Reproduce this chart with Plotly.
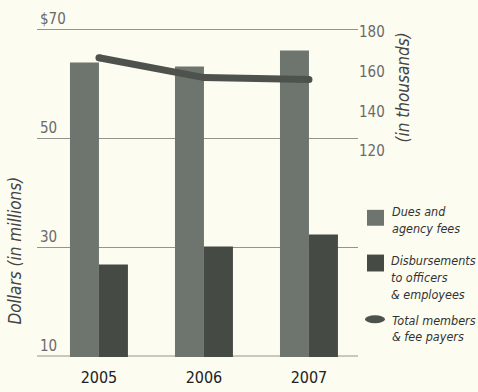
import plotly.graph_objects as go

# ---- data ----
years = ["2005", "2006", "2007"]
dues = [63.9, 63.2, 66.1]            # Dues and agency fees ($ millions)
disb = [26.8, 30.1, 32.3]            # Disbursements to officers & employees ($ millions)
members = [167, 157, 156]            # Total members & fee payers (thousands)

left_ticks = [10, 30, 50, 70]
left_text = ["10", "30", "50", "$70"]
right_ticks = [120, 140, 160, 180]
right_text = ["120", "140", "160", "180"]

series_names = [
    ["Dues and", "agency fees"],
    ["Disbursements", "to officers", "& employees"],
    ["Total members", "& fee payers"],
]
left_title = "Dollars (in millions)"
right_title = "(in thousands)"

# ---- style ----
W, H = 478, 392
L, R, T, B = 37, 120, 5, 33
pw, ph = W - L - R, H - T - B
BG = "#fcfcf1"
C_DUES = "#6e756e"
C_DISB = "#454a45"
C_LINE = "#4d524d"
GRID = "#94948e"
FONT = "DejaVu Sans Condensed, Liberation Sans Narrow, sans-serif"


def px(x):
    return (x - L) / pw


def py(y):
    return (H - B - y) / ph


fig = go.Figure()
fig.add_trace(go.Bar(x=years, y=dues, marker_color=C_DUES, marker_line_width=0,
                     name=" ".join(series_names[0])))
fig.add_trace(go.Bar(x=years, y=disb, marker_color=C_DISB, marker_line_width=0,
                     name=" ".join(series_names[1])))
fig.add_trace(go.Scatter(x=years, y=members, yaxis="y2", mode="lines+markers",
                         line=dict(color=C_LINE, width=7),
                         marker=dict(color=C_LINE, size=7),
                         name=" ".join(series_names[2])))

fig.update_layout(
    width=W, height=H,
    margin=dict(l=L, r=R, t=T, b=B, pad=0),
    paper_bgcolor=BG, plot_bgcolor=BG,
    barmode="group", bargap=0.448, bargroupgap=0,
    showlegend=False,
    font=dict(family=FONT, color="#555"),
    xaxis=dict(
        type="category", range=[-0.59, 2.467],
        showgrid=False, showline=False, zeroline=False, ticks="",
        tickfont=dict(family=FONT, size=16, color="#222"),
        ticklabelstandoff=9,
    ),
    yaxis=dict(
        range=[9.817, 74.475], tickvals=left_ticks, ticktext=left_text,
        showgrid=True, gridcolor=GRID, gridwidth=1,
        zeroline=False, showline=False, ticks="",
        ticklabelposition="inside top",
        tickfont=dict(family=FONT, size=15, color="#6a6a6a"),
    ),
    yaxis2=dict(
        overlaying="y", side="right", range=[16.5, 193.5],
        tickvals=right_ticks, ticktext=right_text,
        showgrid=False, zeroline=False, showline=False, ticks="",
        tickfont=dict(family=FONT, size=15, color="#6a6a6a"),
    ),
)

annotations = []
shapes = []

# baseline gridline at the lowest tick (edge gridlines are culled by plotly)
shapes.append(dict(type="line", xref="paper", yref="y", x0=0, x1=1,
                   y0=left_ticks[0], y1=left_ticks[0],
                   line=dict(color=GRID, width=1), layer="below"))

# axis titles
annotations.append(dict(xref="paper", yref="paper", x=px(15), y=py(252), text=left_title,
                        textangle=-90, showarrow=False, xanchor="center", yanchor="middle",
                        font=dict(family=FONT, size=17, color="#444", style="italic")))
annotations.append(dict(xref="paper", yref="paper", x=px(403), y=py(88), text=right_title,
                        textangle=-90, showarrow=False, xanchor="center", yanchor="middle",
                        font=dict(family=FONT, size=17, color="#444", style="italic")))

# legend
leg_rows = [[213, 230], [262, 279, 296], [322, 338]]
leg_x = [390, 389, 390]
shapes.append(dict(type="rect", xref="paper", yref="paper", x0=px(367), x1=px(384),
                   y0=py(227), y1=py(211), fillcolor=C_DUES, line_width=0))
shapes.append(dict(type="rect", xref="paper", yref="paper", x0=px(367), x1=px(384),
                   y0=py(273), y1=py(256), fillcolor=C_DISB, line_width=0))
shapes.append(dict(type="circle", xref="paper", yref="paper", x0=px(365), x1=px(385),
                   y0=py(325), y1=py(317), fillcolor=C_LINE, line_width=0))
for names, rows, lx in zip(series_names, leg_rows, leg_x):
    for txt, yy in zip(names, rows):
        annotations.append(dict(xref="paper", yref="paper", x=px(lx), y=py(yy), text=txt,
                                showarrow=False, xanchor="left", yanchor="middle",
                                font=dict(family=FONT, size=12.5, color="#333", style="italic")))

fig.update_layout(annotations=annotations, shapes=shapes)
fig.write_html("out.html")
